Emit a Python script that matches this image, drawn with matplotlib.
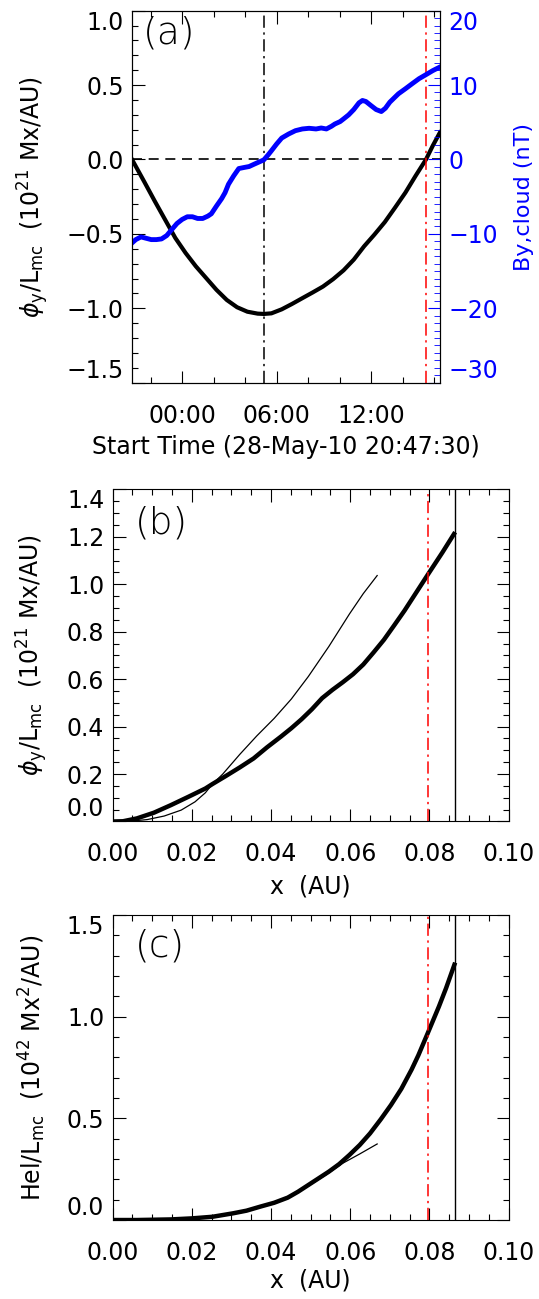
import numpy as np
import matplotlib
matplotlib.use('Agg')
import matplotlib.pyplot as plt
import matplotlib.dates as mdates
from matplotlib.ticker import MultipleLocator, FormatStrFormatter

matplotlib.rcParams.update({'font.size': 17, 'font.family': 'DejaVu Sans',
                            'mathtext.fontset': 'dejavusans',
                            'axes.linewidth': 0.8})

# (a) hours after start time 28-May-10 20:47:30
start = np.datetime64('2010-05-28T20:47:30')
phi_hours = [0, 0.786, 1.441, 2.096, 2.751, 3.405, 4.060, 4.715, 5.370, 6.025, 6.680, 7.335,
             7.990, 8.383, 8.863, 9.518, 10.17, 10.83, 11.48, 12.14, 12.79, 13.45, 14.10,
             14.76, 15.41, 16.07, 16.72, 17.38, 18.03, 18.69, 19.12, 19.58]
phi_a = [0, -0.151, -0.279, -0.403, -0.527, -0.628, -0.718, -0.797, -0.876, -0.944, -0.993,
         -1.023, -1.036, -1.038, -1.034, -1.007, -0.971, -0.932, -0.894, -0.854, -0.804,
         -0.745, -0.673, -0.583, -0.505, -0.421, -0.324, -0.223, -0.110, 0.0, 0.092, 0.182]
by_hours = [0.0, 0.24, 0.568, 0.895, 1.222, 1.55, 1.877, 2.205, 2.532, 2.86, 3.187, 3.515,
            3.842, 4.17, 4.497, 4.824, 5.043, 5.37, 5.698, 5.916, 6.134, 6.462, 6.789, 7.117,
            7.444, 7.771, 8.099, 8.383, 8.645, 8.863, 9.191, 9.518, 9.955, 10.39, 10.83,
            11.26, 11.70, 12.03, 12.36, 12.68, 12.90, 13.23, 13.45, 13.77, 14.10, 14.43,
            14.65, 14.87, 15.19, 15.52, 15.85, 16.11, 16.39, 16.72, 16.94, 17.38, 17.81,
            18.25, 18.69, 19.12, 19.58]
by_cloud = [-11.22, -10.77, -10.41, -10.59, -10.77, -10.77, -10.68, -10.23, -9.41, -8.60,
            -8.06, -7.70, -7.70, -7.93, -7.93, -7.61, -7.30, -6.26, -5.27, -4.46, -3.33,
            -2.21, -1.22, -1.08, -0.95, -0.63, -0.32, -0.05, 0.59, 1.17, 2.07, 2.88, 3.42,
            3.87, 4.10, 4.19, 4.10, 4.23, 4.10, 4.46, 4.77, 5.09, 5.45, 5.99, 6.71, 7.61,
            7.93, 7.79, 7.25, 6.71, 6.44, 6.89, 7.70, 8.38, 8.83, 9.50, 10.18, 10.86, 11.40,
            11.94, 12.43]
t_end = 19.58
t_center = 8.38
t_red = 18.69

# (b) accumulated flux vs distance (thick: data, thin: model)
x_b = [0, 0.0026, 0.0061, 0.0104, 0.0147, 0.0191, 0.0234, 0.0252, 0.0286, 0.0321, 0.0356,
       0.0390, 0.0425, 0.0451, 0.0477, 0.0503, 0.0529, 0.0555, 0.0581, 0.0607, 0.0633,
       0.0659, 0.0685, 0.0711, 0.0737, 0.0763, 0.0796, 0.0833, 0.0865]
phi_b = [0, 0.001, 0.013, 0.037, 0.069, 0.104, 0.139, 0.158, 0.192, 0.228, 0.266, 0.313,
         0.358, 0.393, 0.431, 0.473, 0.520, 0.555, 0.587, 0.621, 0.662, 0.713, 0.766, 0.827,
         0.889, 0.956, 1.041, 1.135, 1.220]
x_b_fit = [0, 0.0043, 0.0087, 0.0130, 0.0173, 0.0208, 0.0234, 0.0252, 0.0278, 0.0321, 0.0364,
           0.0408, 0.0451, 0.0494, 0.0546, 0.0598, 0.0633, 0.0668]
phi_b_fit = [0, 0.001, 0.008, 0.023, 0.048, 0.083, 0.121, 0.158, 0.200, 0.283, 0.361, 0.435,
             0.516, 0.611, 0.738, 0.875, 0.961, 1.037]

# (c) helicity vs distance
x_c = [0, 0.0061, 0.0147, 0.0199, 0.0252, 0.0304, 0.0338, 0.0373, 0.0408, 0.0442, 0.0468,
       0.0494, 0.0520, 0.0546, 0.0572, 0.0598, 0.0624, 0.0650, 0.0677, 0.0703, 0.0729,
       0.0755, 0.0772, 0.0796, 0.0824, 0.0842, 0.0865]
hel_c = [0, 0.0, 0.003, 0.008, 0.016, 0.033, 0.046, 0.066, 0.085, 0.110, 0.139, 0.172, 0.205,
         0.238, 0.275, 0.320, 0.369, 0.426, 0.495, 0.566, 0.645, 0.740, 0.810, 0.920, 1.050,
         1.140, 1.266]
x_c_fit = [0, 0.0147, 0.0252, 0.0304, 0.0373, 0.0442, 0.0494, 0.0538, 0.0581, 0.0624, 0.0668]
hel_c_fit = [0, 0.003, 0.016, 0.033, 0.066, 0.110, 0.167, 0.221, 0.279, 0.325, 0.374]

x_red = 0.0796
x_end = 0.0865


def to_time(h):
    return start + np.round(np.asarray(h) * 3600).astype(int).astype('timedelta64[s]')


def edge_labels(ax):
    labs = ax.get_yticklabels()
    labs[0].set_verticalalignment('bottom')
    labs[-1].set_verticalalignment('top')


dashdot = (0, (8, 3, 1.5, 3))

fig = plt.figure(figsize=(5.39, 12.99), dpi=100)

# ---------------- (a)
ax = fig.add_axes([0.2449, 0.7054, 0.5714, 0.2864])
ax.plot(to_time(phi_hours), phi_a, 'k-', lw=3)
ax.axhline(0, color='k', lw=1.2, ls=(0, (6, 4)))
ax.axvline(to_time(t_center), color='k', lw=1.1, ls=dashdot)
ax.axvline(to_time(t_red), color='red', lw=1.1, ls=dashdot)
ax.set_xlim(to_time(0), to_time(t_end))
ax.set_ylim(-1.5, 1.0)
ax.set_yticks([-1.5, -1.0, -0.5, 0.0, 0.5, 1.0])
ax.yaxis.set_minor_locator(MultipleLocator(0.1))
ax.xaxis.set_major_locator(mdates.HourLocator(byhour=[0, 6, 12]))
ax.xaxis.set_minor_locator(mdates.HourLocator(byhour=range(0, 24, 2)))
ax.xaxis.set_major_formatter(mdates.DateFormatter('%H:%M'))
ax.tick_params(which='both', direction='in', top=True, right=False)
ax.tick_params(which='major', length=9, width=0.8)
ax.tick_params(which='minor', length=4.5, width=0.8)
ax.tick_params(axis='x', pad=15)
ax.tick_params(axis='y', pad=6)
ax.set_ylabel(r'$\phi_{\rm y}$/L$_{\rm mc}$  (10$^{21}$ Mx/AU)', va='center')
ax.yaxis.set_label_coords(-0.322, 0.5)
ax.set_xlabel('Start Time (28-May-10 20:47:30)')
ax.xaxis.set_label_coords(0.5, -0.173)
ax.xaxis.label.set_verticalalignment('center')
ax.text(0.034, 0.94, '(a)', transform=ax.transAxes, fontsize=27, fontweight='light',
        ha='left', va='center')
edge_labels(ax)

ax2 = ax.twinx()
ax2.plot(to_time(by_hours), by_cloud, color='blue', lw=3.5)
ax2.set_ylim(-30, 20)
ax2.set_yticks([-30, -20, -10, 0, 10, 20])
ax2.yaxis.set_minor_locator(MultipleLocator(1))
ax2.tick_params(which='both', direction='in', colors='blue', pad=6)
ax2.tick_params(which='major', length=9)
ax2.tick_params(which='minor', length=4)
ax2.spines['right'].set_color('k')
ax2.set_ylabel('By,cloud (nT)', color='blue', fontsize=16, va='center')
ax2.yaxis.set_label_coords(1.272, 0.5)
edge_labels(ax2)

# ---------------- (b) and (c)
panels = [
    ([0.2091, 0.3676, 0.7345, 0.2556], x_b, phi_b, x_b_fit, phi_b_fit, (0, 1.4), 0.2, 0.05,
     r'$\phi_{\rm y}$/L$_{\rm mc}$  (10$^{21}$ Mx/AU)', '(b)'),
    ([0.2091, 0.0608, 0.7345, 0.2348], x_c, hel_c, x_c_fit, hel_c_fit, (0, 1.5), 0.5, 0.1,
     r'Hel/L$_{\rm mc}$  (10$^{42}$ Mx$^2$/AU)', '(c)'),
]
for rect, xs, ys, xf, yf, ylim, major, minor, ylab, tag in panels:
    a = fig.add_axes(rect)
    a.plot(xs, ys, 'k-', lw=3.2, solid_capstyle='butt')
    a.plot(xf, yf, 'k-', lw=0.9)
    a.axvline(x_red, color='red', lw=1.1, ls=dashdot)
    a.axvline(x_end, color='k', lw=1.0)
    a.set_xlim(0, 0.10)
    a.set_ylim(*ylim)
    a.set_xticks(np.arange(0, 0.1001, 0.02))
    a.xaxis.set_major_formatter(FormatStrFormatter('%.2f'))
    a.xaxis.set_minor_locator(MultipleLocator(0.005))
    a.set_yticks(np.arange(ylim[0], ylim[1] + 1e-6, major))
    a.yaxis.set_major_formatter(FormatStrFormatter('%.1f'))
    a.yaxis.set_minor_locator(MultipleLocator(minor))
    a.tick_params(which='both', direction='in', top=True, right=True)
    a.tick_params(which='major', length=9, width=0.8)
    a.tick_params(which='minor', length=4.5, width=0.8)
    a.tick_params(axis='x', pad=15)
    a.tick_params(axis='y', pad=6)
    a.set_ylabel(ylab, va='center')
    a.yaxis.set_label_coords(-0.204, 0.5)
    a.set_xlabel('x  (AU)')
    a.xaxis.set_label_coords(0.5, -0.197)
    a.xaxis.label.set_verticalalignment('center')
    a.text(0.056, 0.90, tag, transform=a.transAxes, fontsize=27, fontweight='light',
           ha='left', va='center')
    edge_labels(a)

fig.savefig('out.png', dpi=100)
